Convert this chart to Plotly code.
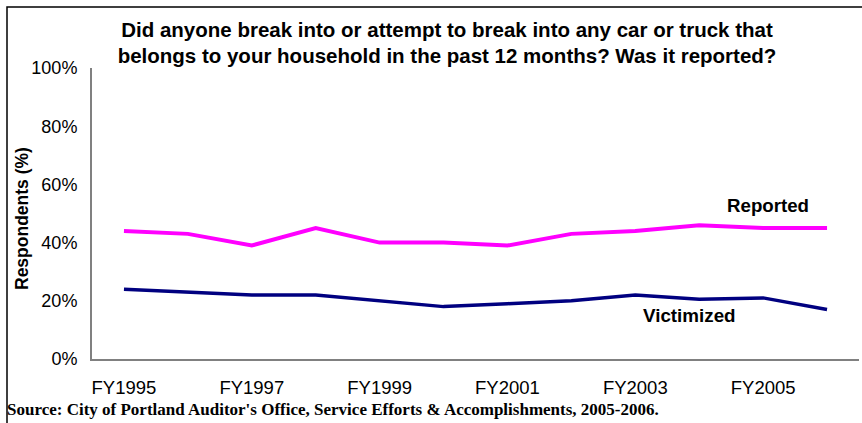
import plotly.graph_objects as go

years = ["FY1995", "FY1996", "FY1997", "FY1998", "FY1999", "FY2000",
         "FY2001", "FY2002", "FY2003", "FY2004", "FY2005", "FY2006"]
tick_labels = ["FY1995", "FY1997", "FY1999", "FY2001", "FY2003", "FY2005"]
reported = [44, 43, 39, 45, 40, 40, 39, 43, 44, 46, 45, 45]
victimized = [24, 23, 22, 22, 20, 18, 19, 20, 22, 20.5, 21, 17]

W, H = 862, 423
L, R, T, B = 92, 3, 68, 64
pw, ph = W - L - R, H - T - B

def px(x):
    return (x - L) / pw

def py(y):
    return (H - B - y) / ph

SANS = "Arial, Liberation Sans, sans-serif"
SERIF = "Times New Roman, Liberation Serif, serif"

fig = go.Figure()
fig.add_trace(go.Scatter(x=years, y=reported, mode="lines", name="Reported",
                         line=dict(color="#FF00FF", width=4)))
fig.add_trace(go.Scatter(x=years, y=victimized, mode="lines", name="Victimized",
                         line=dict(color="#000080", width=3.5)))

fig.update_layout(
    width=W, height=H,
    margin=dict(l=L, r=R, t=T, b=B),
    paper_bgcolor="white", plot_bgcolor="white",
    showlegend=False,
    font=dict(family=SANS, size=18, color="black"),
    title=dict(text="<b>Did anyone break into or attempt to break into any car or truck that<br>belongs to your household in the past 12 months? Was it reported?</b>",
               x=447 / W, xanchor="center", xref="container",
               y=1 - 36.5 / H, yanchor="middle", yref="container",
               font=dict(family=SANS, size=20.5, color="black")),
    xaxis=dict(type="category", range=[-0.5, 11.5], tickmode="array",
               tickvals=tick_labels, ticktext=tick_labels,
               showline=True, linecolor="#808080", linewidth=2,
               ticks="outside", ticklen=11, tickcolor="rgba(0,0,0,0)",
               showgrid=False, zeroline=False,
               tickfont=dict(family=SANS, size=18.5, color="black")),
    yaxis=dict(range=[0, 100], tickmode="linear", tick0=0, dtick=20,
               ticksuffix="%", showline=True, linecolor="#808080", linewidth=2,
               ticks="outside", ticklen=9, tickcolor="rgba(0,0,0,0)",
               showgrid=False, zeroline=False,
               tickfont=dict(family=SANS, size=18, color="black")),
)

fig.add_annotation(x=10.08, y=52.9, xref="x", yref="y", text="<b>Reported</b>",
                   showarrow=False, font=dict(family=SANS, size=18.7, color="black"))
fig.add_annotation(x=8.85, y=14.8, xref="x", yref="y", text="<b>Victimized</b>",
                   showarrow=False, font=dict(family=SANS, size=18.8, color="black"))
fig.add_annotation(x=px(22), y=py(219), xref="paper", yref="paper",
                   text="<b>Respondents (%)</b>", textangle=-90, showarrow=False,
                   xanchor="center", yanchor="middle",
                   font=dict(family=SANS, size=17.5, color="black"))
fig.add_annotation(x=px(5), y=py(409), xref="paper", yref="paper",
                   text="<b>Source: City of Portland Auditor's Office, Service Efforts &amp; Accomplishments, 2005-2006.</b>",
                   showarrow=False, xanchor="left", yanchor="middle",
                   font=dict(family=SERIF, size=17, color="black"))

fig.add_shape(type="rect", xref="paper", yref="paper",
              x0=px(7), y0=py(440), x1=px(880), y1=py(7),
              line=dict(color="black", width=1.5), fillcolor="rgba(0,0,0,0)", layer="below")

fig.write_html("out.html", config={"displayModeBar": False},
               post_script="document.body.style.margin='0';document.body.style.overflow='hidden';")
